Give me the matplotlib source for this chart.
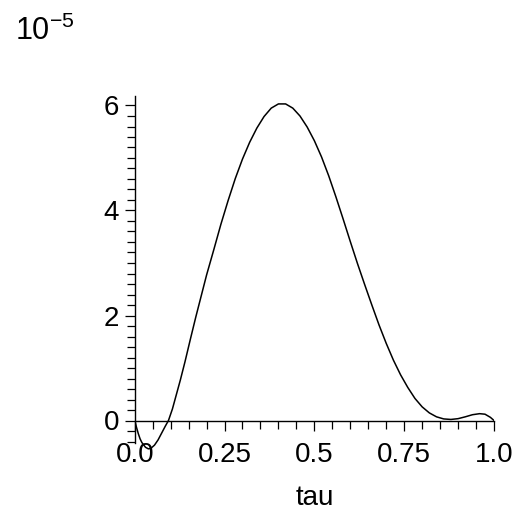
import matplotlib
matplotlib.use('Agg')
import matplotlib.pyplot as plt
from matplotlib.ticker import FixedLocator

plt.rcParams['font.family'] = ['Liberation Sans', 'DejaVu Sans']
plt.rcParams['mathtext.fontset'] = 'custom'
plt.rcParams['mathtext.rm'] = 'Liberation Sans'
plt.rcParams['mathtext.it'] = 'Liberation Sans'

# curve (values in units of 1e-5)
tau = [0, 0.005, 0.01, 0.015, 0.02, 0.03, 0.038, 0.045, 0.055, 0.065,
       0.075, 0.085, 0.094, 0.105, 0.115, 0.127, 0.14, 0.155, 0.17, 0.182,
       0.2, 0.22, 0.24, 0.26, 0.28, 0.30, 0.32, 0.34, 0.36, 0.38,
       0.40, 0.42, 0.44, 0.46, 0.48, 0.50, 0.52, 0.54, 0.56, 0.58,
       0.60, 0.62, 0.64, 0.66, 0.68, 0.70, 0.72, 0.74, 0.76, 0.78,
       0.80, 0.82, 0.84, 0.86, 0.88, 0.90, 0.92, 0.94, 0.96, 0.975,
       0.99, 1.0]
val = [0, -0.13, -0.25, -0.35, -0.42, -0.51, -0.54, -0.53, -0.47, -0.37,
       -0.24, -0.11, 0, 0.22, 0.47, 0.77, 1.12, 1.55, 1.97, 2.29,
       2.77, 3.25, 3.74, 4.19, 4.61, 4.98, 5.30, 5.57, 5.79, 5.95,
       6.03, 6.03, 5.95, 5.80, 5.59, 5.33, 5.02, 4.66, 4.26, 3.84,
       3.41, 2.99, 2.59, 2.20, 1.82, 1.47, 1.15, 0.87, 0.63, 0.42,
       0.26, 0.145, 0.07, 0.03, 0.02, 0.035, 0.07, 0.11, 0.13, 0.12,
       0.06, 0]

xticks = [0, 0.25, 0.5, 0.75, 1.0]
xlabels = ['0.0', '0.25', '0.5', '0.75', '1.0']
yticks = [0, 2, 4, 6]

W, H = 517, 525
fig = plt.figure(figsize=(W / 100, H / 100), dpi=100)

# pixel geometry of the plot box
x0, x1 = 134.7, 494.0
ylo, yhi = -0.6, 6.2
y_zero, y_scale = 420.5, 52.5
py_bot = y_zero - ylo * y_scale
py_top = y_zero - yhi * y_scale
ax = fig.add_axes([x0 / W, (H - py_bot) / H, (x1 - x0) / W, (py_bot - py_top) / H])

ax.plot(tau, val, color='black', lw=1.1, solid_joinstyle='round')

ax.set_xlim(0, 1)
ax.set_ylim(ylo, yhi)

for s in ['top', 'right']:
    ax.spines[s].set_visible(False)
ax.spines['bottom'].set_position(('data', 0))
ax.spines['bottom'].set_bounds(0, 1)
ax.spines['left'].set_bounds(-0.43, 6.18)
for s in ['bottom', 'left']:
    ax.spines[s].set_linewidth(1.0)

ax.xaxis.set_major_locator(FixedLocator(xticks))
ax.set_xticklabels(xlabels)
ax.xaxis.set_minor_locator(FixedLocator([i * 0.05 for i in range(1, 20) if i % 5]))
ax.yaxis.set_major_locator(FixedLocator(yticks))
ax.yaxis.set_minor_locator(FixedLocator([round(-0.4 + i * 0.2, 2) for i in range(33) if i % 10 != 2]))

ax.tick_params(which='major', direction='out', length=7.2, width=0.9, labelsize=20, colors='black')
ax.tick_params(which='minor', direction='out', length=5.5, width=0.9)
ax.tick_params(axis='x', which='major', pad=8)
ax.tick_params(axis='y', which='major', pad=4)

fig.text(0.5 * (x0 + x1) / W, 1 - 498 / H, 'tau', fontsize=20, ha='center', va='center')
fig.text(15 / W, 1 - 40 / H, r'$10^{-5}$', fontsize=22, ha='left', va='baseline')

fig.savefig('out.png', dpi=100)
